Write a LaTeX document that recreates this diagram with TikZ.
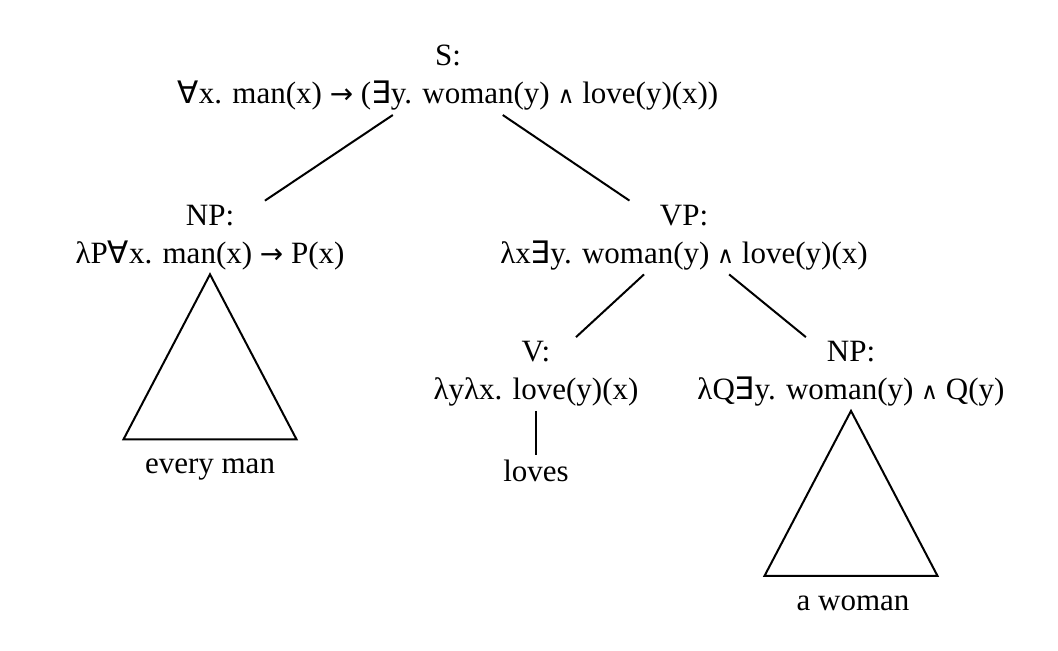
\documentclass[tikz,border=0pt]{standalone}
\usepackage{fontspec}
\setmainfont{Liberation Serif}
\newfontfamily\symfont{DejaVu Sans}
\newcommand{\qall}{{\symfont ∀}}
\newcommand{\qex}{{\symfont ∃}}
\newcommand{\qand}{{\symfont\scalebox{0.75}{∧}}}
\newcommand{\qimp}{{\symfont\scalebox{0.9}{→}}}

\begin{document}
\begin{tikzpicture}[x=0.5pt,y=-0.5pt,
    sem/.style={align=center,inner sep=2pt,font=\fontsize{15.5}{19}\selectfont},
    leaf/.style={inner sep=2pt,anchor=base,font=\fontsize{15.5}{19}\selectfont},
    branch/.style={line width=1pt},
    roof/.style={line width=1pt,line join=miter}]
    \useasboundingbox (0,0) rectangle (1058,650);

    \node[sem] (s)   at (448,78)    {S:\\\qall x. man(x) \qimp{} (\qex y. woman(y) \qand{} love(y)(x))};
    \node[sem] (np)  at (210,237.5) {NP:\\λP\qall x. man(x) \qimp{} P(x)};
    \node[sem] (vp)  at (684,237.5) {VP:\\λx\qex y. woman(y) \qand{} love(y)(x)};
    \node[sem] (v)   at (536,374)   {V:\\λyλx. love(y)(x)};
    \node[sem] (obj) at (851,374)   {NP:\\λQ\qex y. woman(y) \qand{} Q(y)};

    \node[leaf] (every) at (210,473) {every man};
    \node[leaf] (loves) at (536,481) {loves};
    \node[leaf] (woman) at (853,610) {a woman};

    \draw[branch] (s) -- (np);
    \draw[branch] (s) -- (vp);
    \draw[branch] (vp) -- (v);
    \draw[branch] (vp) -- (obj);
    \draw[branch] (v) -- (loves);

    \draw[roof] (np.south) -- ++(-86.5,165) -- ++(173,0) -- cycle;
    \draw[roof] (obj.south) -- ++(-86.5,165) -- ++(173,0) -- cycle;
\end{tikzpicture}
\end{document}
